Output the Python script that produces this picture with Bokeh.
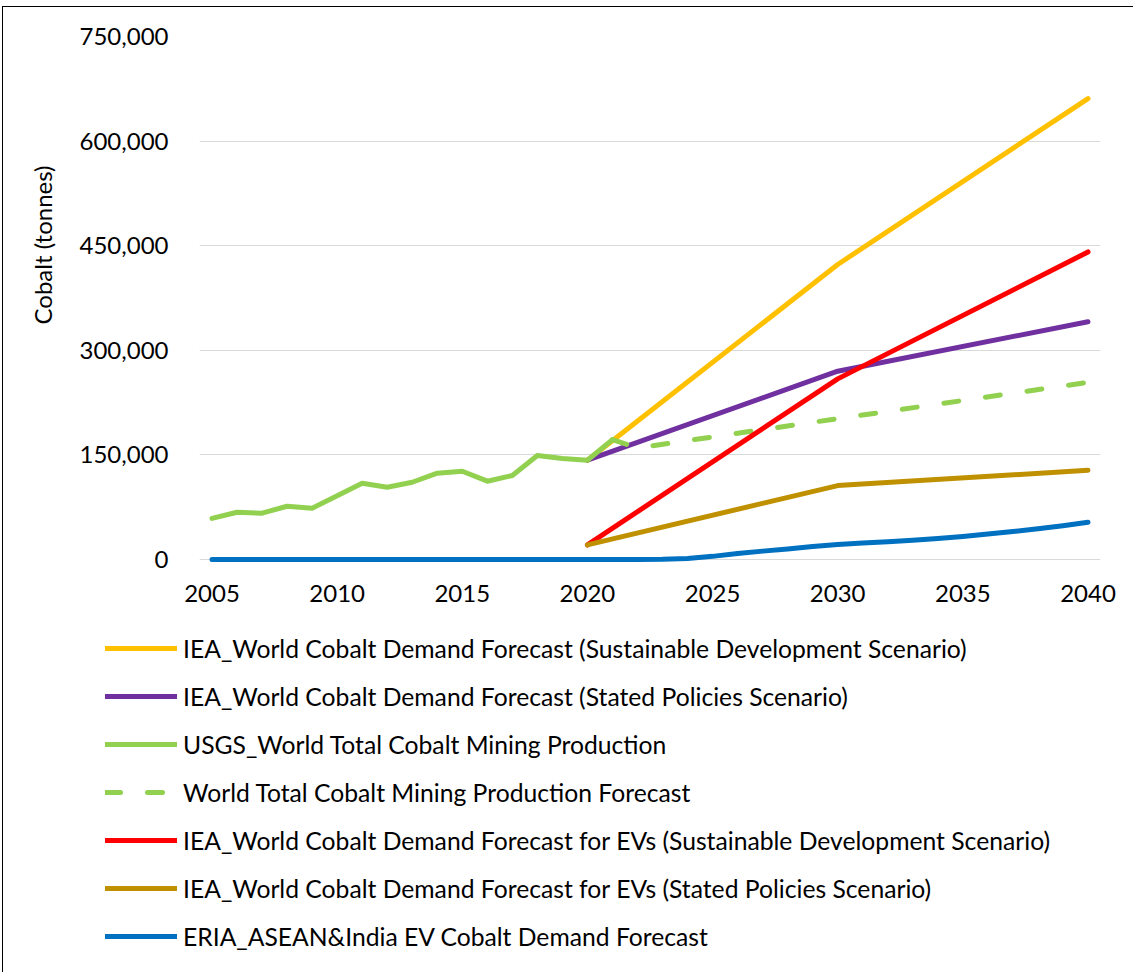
from bokeh.plotting import figure
from bokeh.layouts import column, row
from bokeh.models import Legend, LegendItem, NumeralTickFormatter, FixedTicker, Title
from bokeh.embed import file_html
from bokeh.resources import INLINE

# ---- data ----
hist_years = list(range(2005, 2022))
usgs_production = [59000, 67800, 66400, 76400, 73600, 91500, 109400, 103700, 110800,
                   123800, 126600, 112300, 120500, 149100, 144800, 142400, 172000]

fc_years = [2021, 2022, 2030, 2040]
production_forecast = [172000, 160000, 202000, 254000]

iea_years = [2020, 2030, 2040]
iea_sds_total = [142400, 423000, 661000]
iea_steps_total = [142400, 270000, 341000]
iea_sds_ev = [21000, 259000, 441000]
iea_steps_ev = [21000, 106000, 128000]

eria_years = list(range(2005, 2041))
eria_demand = [0] * 18 + [300, 1500, 4500, 8500, 12000, 15000, 18500, 21500, 23500,
                          25500, 27500, 30000, 33000, 36500, 40000, 44000, 48500, 53500]

x_ticks = [2005, 2010, 2015, 2020, 2025, 2030, 2035, 2040]
y_ticks = [0, 150000, 300000, 450000, 600000, 750000]

labels = [
    "IEA_World Cobalt Demand Forecast (Sustainable Development Scenario)",
    "IEA_World Cobalt Demand Forecast (Stated Policies Scenario)",
    "USGS_World Total Cobalt Mining Production",
    "World Total Cobalt Mining Production Forecast",
    "IEA_World Cobalt Demand Forecast for EVs (Sustainable Development Scenario)",
    "IEA_World Cobalt Demand Forecast for EVs (Stated Policies Scenario)",
    "ERIA_ASEAN&India EV Cobalt Demand Forecast",
]
colors = ["#FFC000", "#7030A0", "#92D050", "#92D050", "#FF0000", "#BF9000", "#0070C0"]
dashes = [None, None, None, "15 27", None, None, None]

FONT = "Lato"
FS = "24px"
LEG_FS = "24.7px"
LW = 5
W = 1130

# ---------------- main chart ----------------
p = figure(width=W, frame_width=901, frame_height=526,
           x_range=(2004.5, 2040.5), y_range=(-4300, 750000),
           output_backend="svg", toolbar_location=None)
p.min_border_left = 196
p.min_border_right = 33
p.min_border_top = 29
p.min_border_bottom = 60
p.outline_line_color = None
p.background_fill_color = "white"
p.border_fill_color = "white"

p.xgrid.grid_line_color = None
p.ygrid.grid_line_color = "#D9D9D9"
p.ygrid.grid_line_width = 1.2

p.xaxis.ticker = FixedTicker(ticks=x_ticks)
p.yaxis.ticker = FixedTicker(ticks=y_ticks)
p.yaxis.formatter = NumeralTickFormatter(format="0,0")
for ax in (p.xaxis, p.yaxis):
    ax.axis_line_color = None
    ax.major_tick_line_color = None
    ax.minor_tick_line_color = None
    ax.major_label_text_font = FONT
    ax.major_label_text_font_size = FS
    ax.major_label_text_color = "#000000"
p.xaxis.major_label_standoff = 16
p.yaxis.major_label_standoff = 25

series = [
    (iea_years, iea_sds_total),
    (iea_years, iea_steps_total),
    (hist_years, usgs_production),
    (fc_years, production_forecast),
    (iea_years, iea_sds_ev),
    (iea_years, iea_steps_ev),
    (eria_years, eria_demand),
]


def style(c, dash):
    kw = dict(line_color=c, line_width=LW, line_cap="round", line_join="round")
    if dash:
        kw["line_dash"] = dash
    return kw


for (xs, ys), c, d in zip(series, colors, dashes):
    p.line(xs, ys, **style(c, d))

ytitle = Title(text="Cobalt (tonnes)", align="right", offset=129, vertical_align="bottom",
               standoff=40, text_font=FONT, text_font_size=FS, text_font_style="normal",
               text_color="#000000")
p.add_layout(ytitle, "left")

# ---------------- legend panel ----------------
LH = 350
lg = figure(frame_width=W, frame_height=LH, x_range=(0, 1), y_range=(0, 1),
            x_axis_type=None, y_axis_type=None,
            output_backend="svg", toolbar_location=None)
lg.min_border_left = 0
lg.min_border_right = 0
lg.min_border_top = 0
lg.min_border_bottom = 0
lg.outline_line_color = None
lg.grid.visible = False
lg.background_fill_color = "white"
lg.border_fill_color = "white"

nan = float("nan")
leg_renderers = [lg.line(x=[nan, nan], y=[nan, nan], **style(c, d)) for c, d in zip(colors, dashes)]

legend = Legend(items=[LegendItem(label=l, renderers=[r]) for l, r in zip(labels, leg_renderers)],
                location=(102, 21), orientation="vertical",
                label_text_font=FONT, label_text_font_size=LEG_FS, label_text_color="#000000",
                glyph_width=72, glyph_height=30, label_height=30, label_standoff=6,
                spacing=18, padding=0, margin=0,
                border_line_color=None, background_fill_alpha=0)
lg.add_layout(legend, "center")

layout = column(p, row(lg), spacing=0)
layout.margin = (6, 0, 0, 2)
layout.styles = {"border-left": "1px solid #000", "border-top": "1px solid #000"}

open("out.html", "w").write(file_html(layout, INLINE))
